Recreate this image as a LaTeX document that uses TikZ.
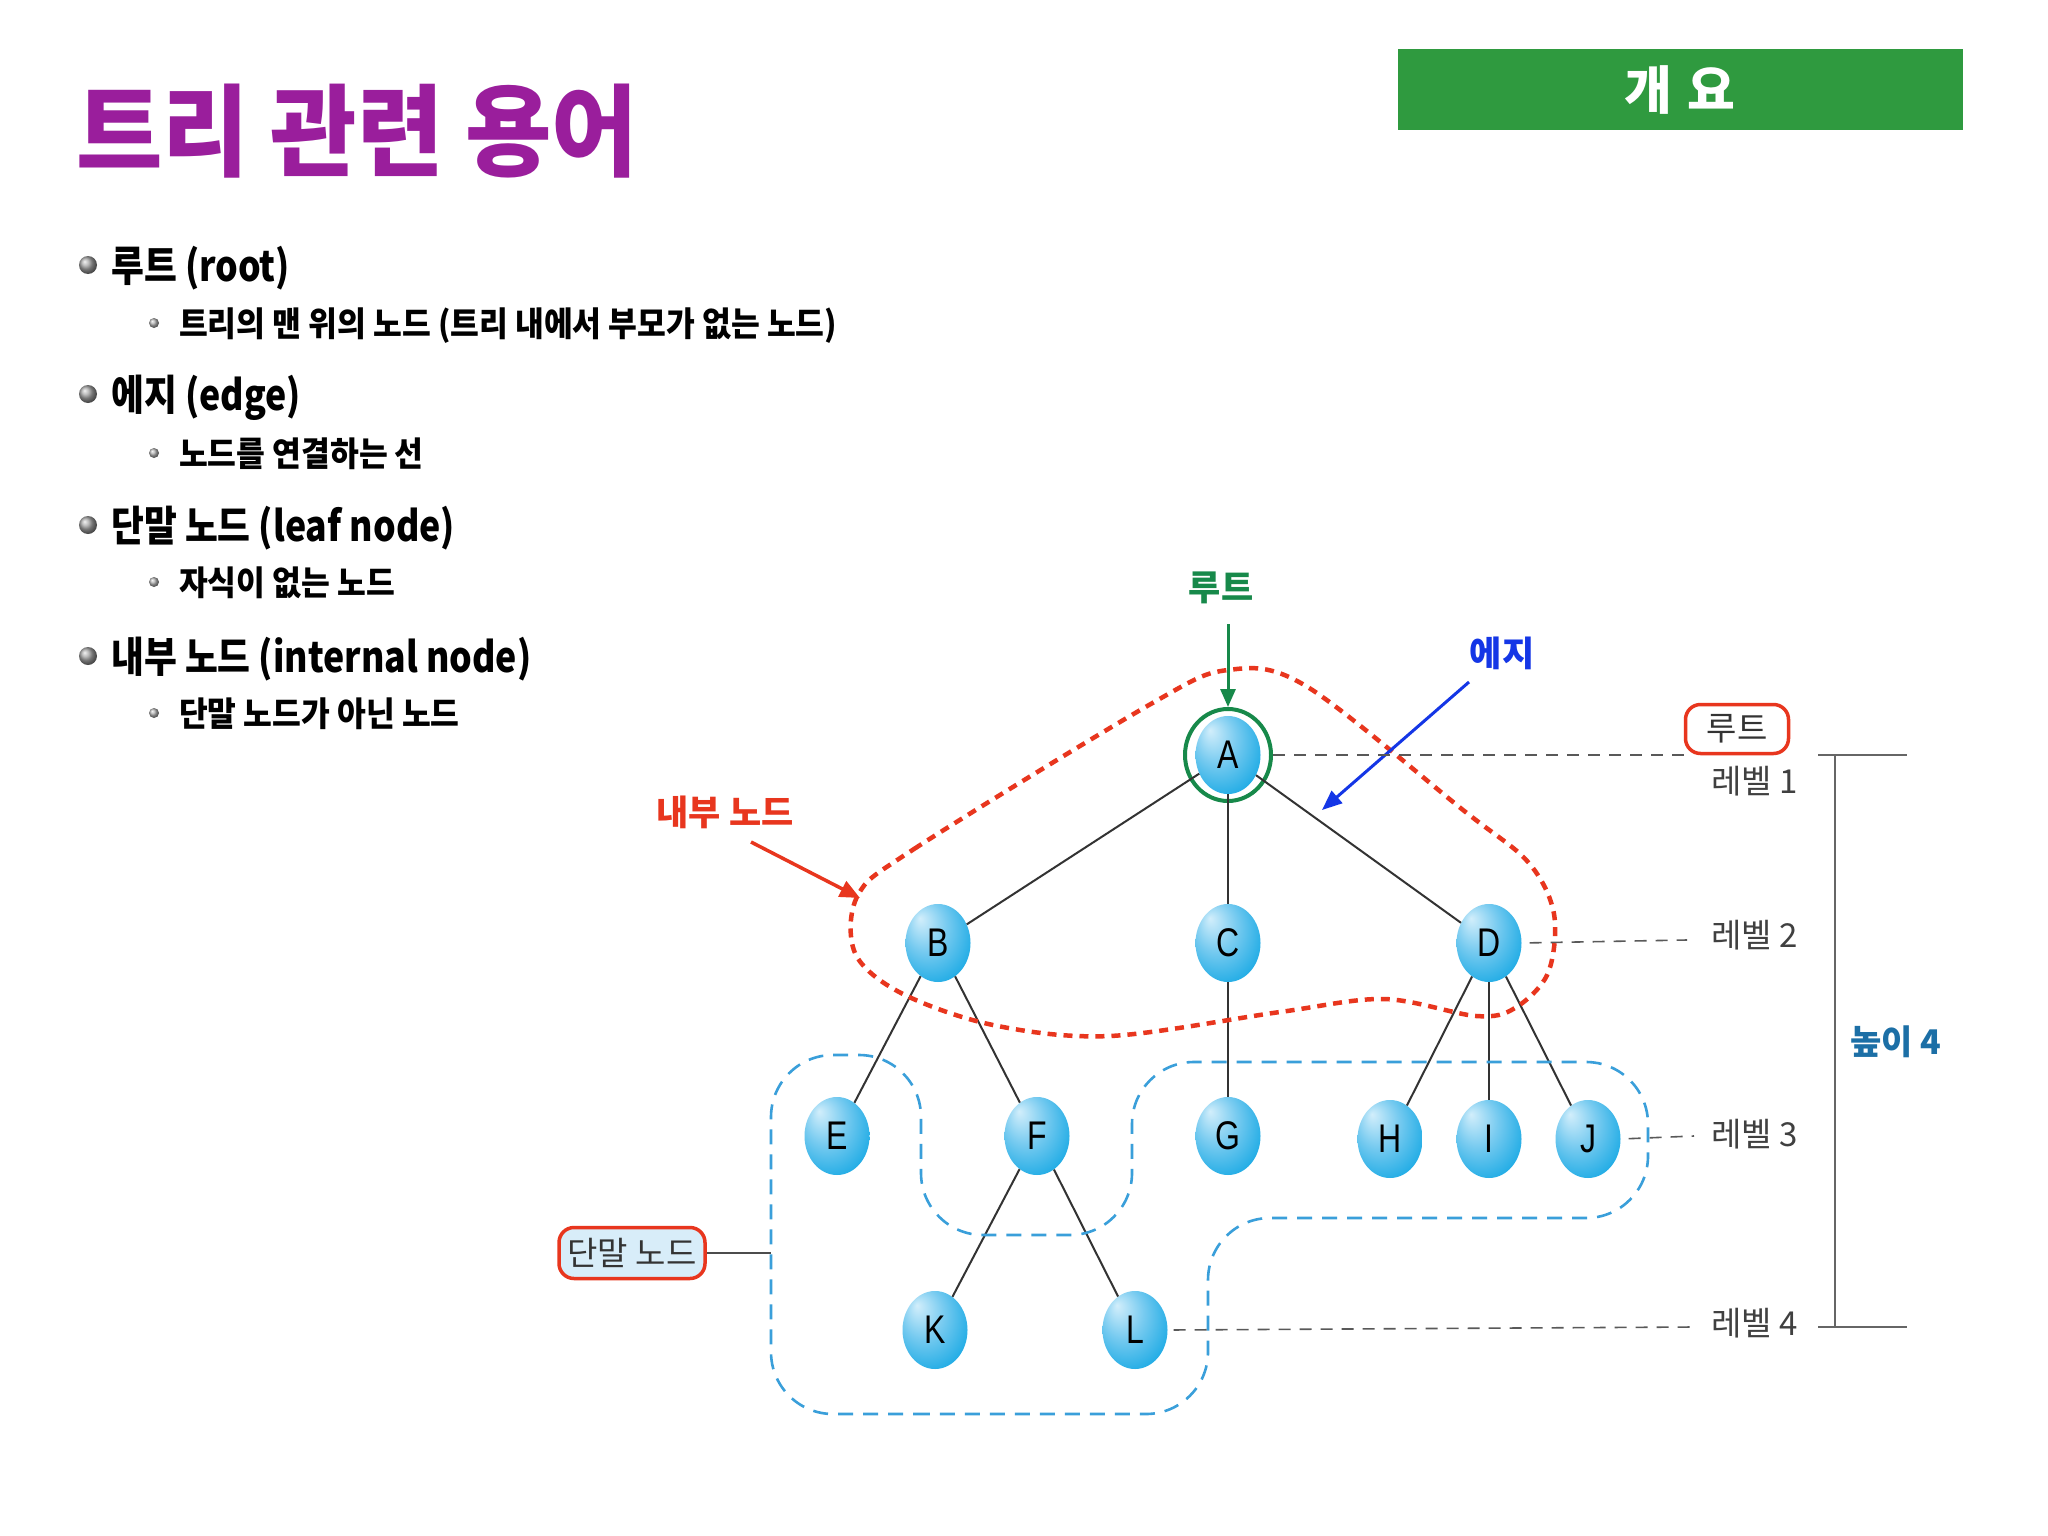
\documentclass[tikz,border=0pt]{standalone}
\usepackage{fontspec}
\usepackage{xcolor}
\usepackage{tikz}
\usetikzlibrary{shapes.geometric, arrows.meta, positioning, calc}

\newfontfamily\krfont[FakeStretch=0.85]{Noto Sans CJK KR}
\newfontfamily\krsub[FakeStretch=0.92]{Noto Sans CJK KR}
\newfontfamily\krtitle[FakeStretch=0.94]{Noto Sans CJK KR}
\newfontfamily\krplain{Noto Sans CJK KR}
\newfontfamily\abcfont[FakeStretch=0.8]{Liberation Sans}

\definecolor{titlepurple}{HTML}{9A1E9C}
\definecolor{headgreen}{HTML}{2F9A3F}
\definecolor{rootgreen}{HTML}{17894A}
\definecolor{edgeblue}{HTML}{1436E6}
\definecolor{innerred}{HTML}{E8361E}
\definecolor{leafblue}{HTML}{3A9FDA}
\definecolor{heightblue}{HTML}{1C6FA6}
\definecolor{ballhi}{HTML}{D2EEFB}
\definecolor{ballmid}{HTML}{78CBF0}
\definecolor{balllo}{HTML}{10A6E3}
\definecolor{tagfill}{HTML}{D8EDF9}
\pgfdeclareradialshading{nodeball}{\pgfpoint{-14bp}{16bp}}{color(0bp)=(ballhi); color(16bp)=(ballmid); color(36bp)=(balllo); color(50bp)=(balllo)}

\begin{document}
\begin{tikzpicture}[x=1pt, y=-1pt,
  tnode/.style={ellipse, minimum width=65pt, minimum height=78pt, inner sep=0pt, shading=nodeball, font=\abcfont\fontsize{40}{40}\selectfont},
  link/.style={draw=black!80, line width=2pt},
  levelline/.style={draw=black!65, line width=1.6pt, dash pattern=on 12pt off 9pt},
  levellabel/.style={anchor=west, inner sep=0pt, text=black!75, font=\krplain\fontsize{33}{33}\selectfont},
  mainitem/.style={anchor=base west, inner sep=0pt, font=\krfont\bfseries\fontsize{42}{42}\selectfont},
  subitem/.style={anchor=base west, inner sep=0pt, font=\krsub\bfseries\fontsize{34}{34}\selectfont},
  callout/.style={inner sep=0pt, font=\krplain\bfseries\fontsize{35}{35}\selectfont},
  tag/.style={draw=innerred, line width=3.5pt, rounded corners=15pt, inner sep=0pt, text=black!80, font=\krplain\fontsize{33}{33}\selectfont},
]
\useasboundingbox[fill=white] (0,0) rectangle (2048,1536);

% title and header
\node[anchor=base west, inner sep=0pt, text=titlepurple, font=\krtitle\bfseries\fontsize{100}{100}\selectfont] (title) at (76,168) {트리 관련 용어};
\node[fill=headgreen, minimum width=565pt, minimum height=81pt, inner sep=0pt, text=white, font=\krplain\bfseries\fontsize{52}{52}\selectfont] (head) at (1680,90) {개\hspace{16pt}요};

% bullet list
\shade[ball color=black!35] (88,265) circle (9);
\shade[ball color=black!35] (88,394) circle (9);
\shade[ball color=black!35] (88,525) circle (9);
\shade[ball color=black!35] (88,656) circle (9);
\shade[ball color=black!30] (154,323) circle (5);
\shade[ball color=black!30] (154,453) circle (5);
\shade[ball color=black!30] (154,582) circle (5);
\shade[ball color=black!30] (154,713) circle (5);
\node[mainitem] (root) at (111,281) {루트 (root)};
\node[subitem] (rootdef) at (179,336) {트리의 맨 위의 노드 (트리 내에서 부모가 없는 노드)};
\node[mainitem] (edge) at (111,410) {에지 (edge)};
\node[subitem] (edgedef) at (179,466) {노드를 연결하는 선};
\node[mainitem] (leaf) at (111,541) {단말 노드 (leaf node)};
\node[subitem] (leafdef) at (179,595) {자식이 없는 노드};
\node[mainitem] (inner) at (111,672) {내부 노드 (internal node)};
\node[subitem] (innerdef) at (179,726) {단말 노드가 아닌 노드};

% tree
\foreach \n/\x/\y in {A/1228/755, B/938/943, C/1228/943, D/1489/943,
    E/837/1136, F/1037/1136, G/1228/1136, H/1390/1139, I/1489/1139, J/1588/1139,
    K/935/1330, L/1135/1330}
  \node[tnode] (\n) at (\x,\y) {\n};
\node[ellipse, draw=rootgreen, line width=4pt, minimum width=86pt, minimum height=92pt] (ring) at (A) {};
\foreach \p/\c in {A/B, A/C, A/D, B/E, B/F, C/G, D/H, D/I, D/J, F/K, F/L}
  \draw[link] (\p) -- (\c);

% internal nodes outline
\draw[innerred, line width=4.5pt, dash pattern=on 9pt off 7pt] plot[smooth cycle, tension=0.55] coordinates {
  (858,895) (914,849) (1149,705) (1228,670) (1306,686) (1463,810) (1528,862)
  (1554,914) (1548,973) (1515,1008) (1476,1016) (1384,999) (1280,1012)
  (1110,1036) (993,1025) (901,993) (855,953)};

% leaf nodes outline
\draw[leafblue, line width=2.6pt, dash pattern=on 15pt off 10pt, rounded corners=62pt]
  (990,1414) -- (771,1414) -- (771,1055) -- (921,1055) -- (921,1235) -- (1132,1235)
  -- (1132,1062) -- (1648,1062) -- (1648,1218) -- (1208,1218) -- (1208,1414) -- cycle;

% callouts
\node[callout, text=rootgreen] (rootlab) at (1221,588) {루트};
\coordinate (rootfrom) at (1228,624);
\draw[-{Triangle[length=18pt, width=15pt]}, rootgreen, line width=3pt] (rootfrom) -- (ring.north);
\node[callout, text=edgeblue] (edgelab) at (1502,653) {에지};
\coordinate (edgefrom) at (1469,682);
\coordinate (edgeto) at (1322,810);
\draw[-{Triangle[length=20pt, width=16pt]}, edgeblue, line width=3pt] (edgefrom) -- (edgeto);
\node[callout, text=innerred] (innerlab) at (725,812) {내부 노드};
\coordinate (innerfrom) at (751,842);
\coordinate (innerto) at (860,898);
\draw[-{Triangle[length=20pt, width=17pt]}, innerred, line width=3.5pt] (innerfrom) -- (innerto);

% levels
\coordinate (lv1) at (1690,755);
\coordinate (lv2) at (1687,940);
\coordinate (lv3) at (1694,1136);
\coordinate (lv4) at (1694,1327);
\draw[levelline] (ring.east) -- (lv1);
\draw[levelline, shorten <=8pt] (D.east) -- (lv2);
\draw[levelline, shorten <=8pt] (J.east) -- (lv3);
\draw[levelline, shorten <=6pt] (L.east) -- (lv4);
\node[tag, fill=white, minimum width=103pt, minimum height=49pt] (roottag) at (1737,729) {루트};
\node[levellabel] (lab1) at (1711,781) {레벨 1};
\node[levellabel] (lab2) at (1711,935) {레벨 2};
\node[levellabel] (lab3) at (1711,1134) {레벨 3};
\node[levellabel] (lab4) at (1711,1323) {레벨 4};

% height
\coordinate (htop) at (1818,755);
\coordinate (htopend) at (1907,755);
\coordinate (hbot) at (1818,1327);
\coordinate (hbotend) at (1907,1327);
\coordinate (hup) at (1835,755);
\coordinate (hdown) at (1835,1327);
\draw[black!60, line width=1.8pt] (htop) -- (htopend) (hbot) -- (hbotend) (hup) -- (hdown);
\node[text=heightblue, inner sep=0pt, font=\krplain\bfseries\fontsize{34}{34}\selectfont] (height) at (1896,1042) {높이 4};

% leaf tag
\node[tag, fill=tagfill, minimum width=146pt, minimum height=51pt] (leaftag) at (632,1253) {단말 노드};
\coordinate (leafhook) at (771,1253);
\draw[black!70, line width=1.8pt] (leaftag.east) -- (leafhook);
\end{tikzpicture}
\end{document}
